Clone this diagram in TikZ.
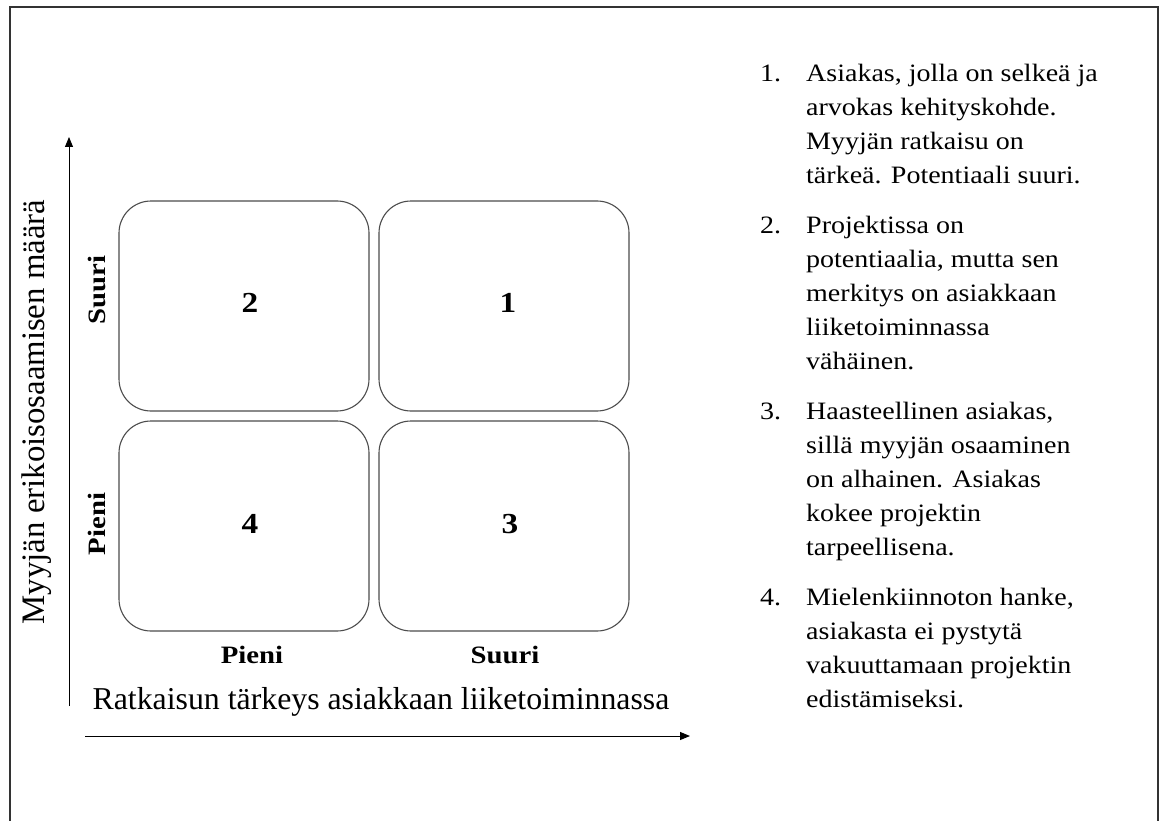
\documentclass[tikz,border=0pt]{standalone}
\usepackage{fontspec}
\setmainfont{Liberation Serif}
\newfontfamily\listfont[FakeStretch=1.12]{Liberation Serif}
\newfontfamily\lvlfont[FakeStretch=1.15]{Liberation Serif}
\usetikzlibrary{arrows.meta}
\begin{document}
\begin{tikzpicture}[x=1pt,y=-1pt,
  frameline/.style={draw=black!80, line width=1.3pt},
  quad/.style={draw=black!70, line width=1.1pt, rounded corners=32pt,
    minimum width=250pt, minimum height=210pt, inner sep=0pt},
  qnum/.style={font=\lvlfont\fontsize{29}{29}\selectfont\bfseries, inner sep=0pt},
  lvl/.style={font=\lvlfont\fontsize{25}{25}\selectfont\bfseries, inner sep=0pt},
  axis/.style={line width=1pt, -{Triangle[length=10pt,width=8pt]}},
  itemnum/.style={anchor=base west, inner sep=0pt, font=\listfont\fontsize{25}{34}\selectfont},
  itemtext/.style={anchor=base west, inner sep=0pt, font=\listfont\fontsize{25}{34}\selectfont}
]
\useasboundingbox (0,0) rectangle (1166,821);

% outer frame, open at the bottom
\draw[frameline] (10,821) -- (10,7) -- (1158,7) -- (1158,821);

% the four quadrants
\node[quad] (q2) at (244,306) {};
\node[quad] (q1) at (504,306) {};
\node[quad] (q4) at (244,526) {};
\node[quad] (q3) at (504,526) {};
\node[qnum] (n2) at (250,303) {2};
\node[qnum] (n1) at (508,303) {1};
\node[qnum] (n4) at (250,524) {4};
\node[qnum] (n3) at (510,524) {3};

% axes
\coordinate (yo) at (69,706);
\coordinate (yt) at (69,137);
\coordinate (xo) at (85,736);
\coordinate (xt) at (690,736);
\draw[axis] (yo) -- (yt);
\draw[axis] (xo) -- (xt);

% level labels
\node[lvl, rotate=90] (ys) at (97,290) {Suuri};
\node[lvl, rotate=90] (yp) at (97,524) {Pieni};
\node[lvl] (xp) at (252,655) {Pieni};
\node[lvl] (xs) at (505,655) {Suuri};

% axis titles
\node[font=\fontsize{32.8}{33}\selectfont, inner sep=0pt, rotate=90] (ytitle) at (37,412) {Myyjän erikoisosaamisen määrä};
\node[font=\fontsize{31.8}{32}\selectfont, inner sep=0pt] (xtitle) at (381,702) {Ratkaisun tärkeys asiakkaan liiketoiminnassa};

% explanation list
\node[itemnum] (i1n) at (760,82) {1.};
\node[itemtext] (i1) at (806,82) {\begin{tabular}[t]{@{}l@{}}Asiakas, jolla on selkeä ja\\arvokas kehityskohde.\\Myyjän ratkaisu on\\tärkeä. Potentiaali suuri.\end{tabular}};
\node[itemnum] (i2n) at (760,233) {2.};
\node[itemtext] (i2) at (806,233) {\begin{tabular}[t]{@{}l@{}}Projektissa on\\potentiaalia, mutta sen\\merkitys on asiakkaan\\liiketoiminnassa\\vähäinen.\end{tabular}};
\node[itemnum] (i3n) at (760,419) {3.};
\node[itemtext] (i3) at (806,419) {\begin{tabular}[t]{@{}l@{}}Haasteellinen asiakas,\\sillä myyjän osaaminen\\on alhainen. Asiakas\\kokee projektin\\tarpeellisena.\end{tabular}};
\node[itemnum] (i4n) at (760,605) {4.};
\node[itemtext] (i4) at (806,605) {\begin{tabular}[t]{@{}l@{}}Mielenkiinnoton hanke,\\asiakasta ei pystytä\\vakuuttamaan projektin\\edistämiseksi.\end{tabular}};
\end{tikzpicture}
\end{document}
